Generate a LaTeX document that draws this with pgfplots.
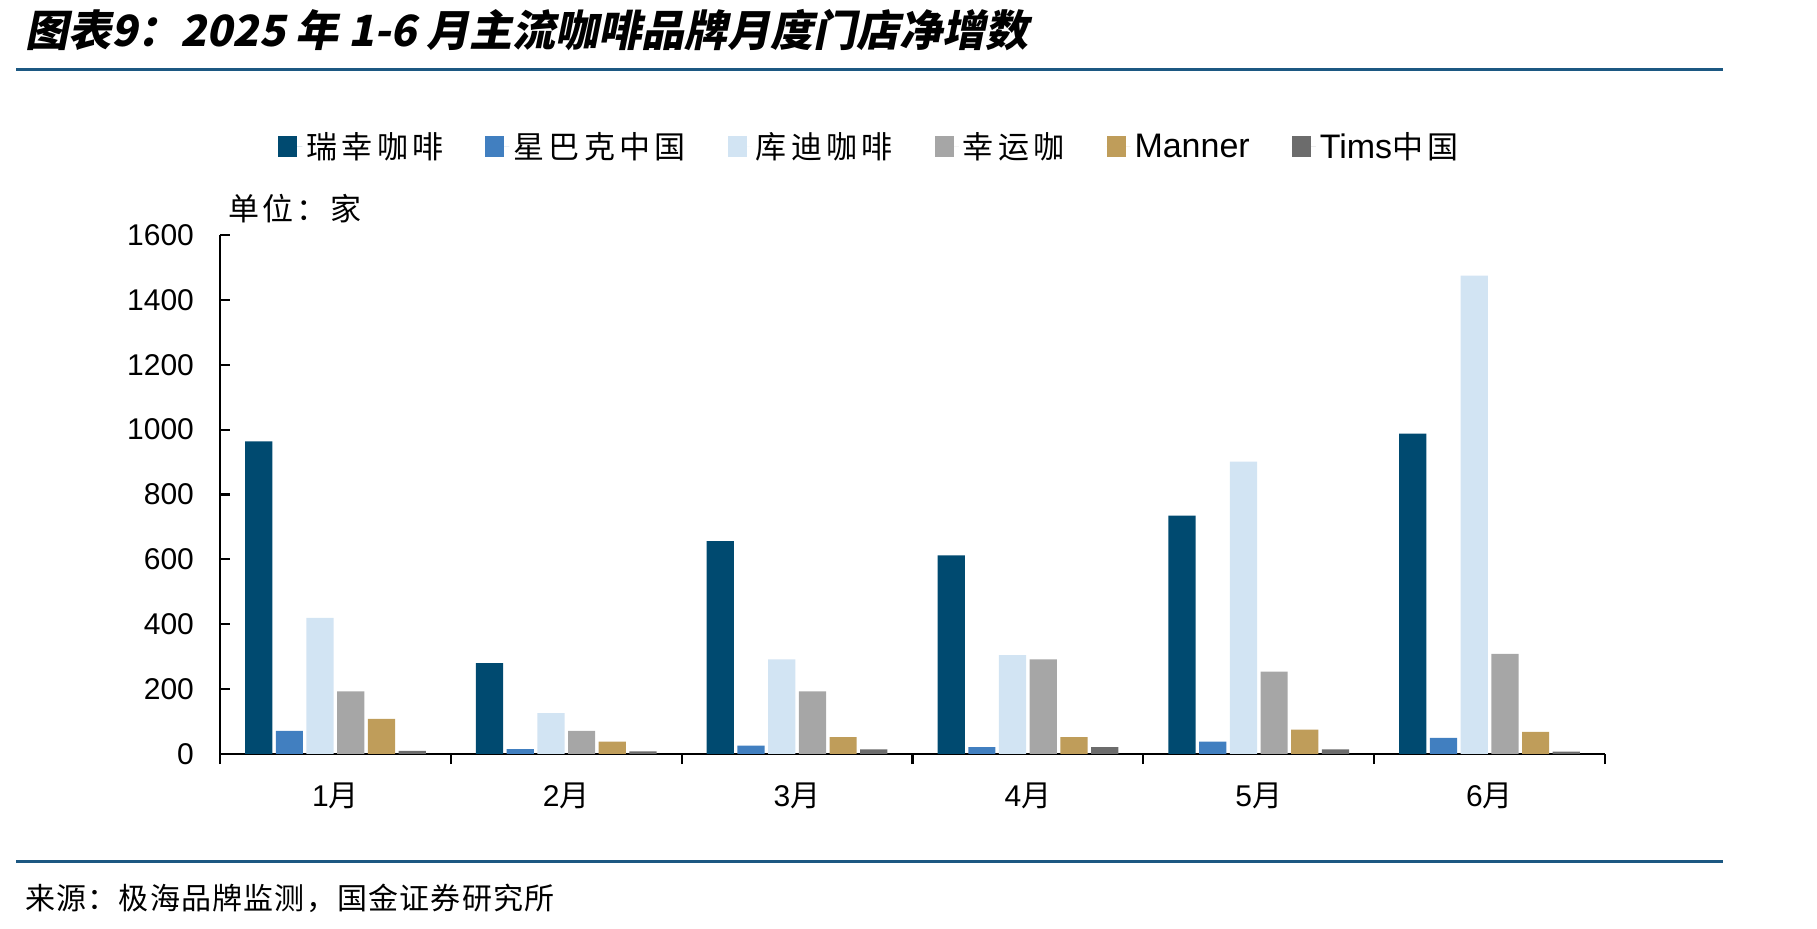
\documentclass[border=0pt]{standalone}
\usepackage{fontspec}
\setmainfont{Liberation Sans}
\newfontfamily\cjk{Noto Sans CJK SC}
\newfontfamily\cjkl{Noto Sans CJK SC}[LetterSpace=10]
\newfontfamily\cjkg{Noto Sans CJK SC}[LetterSpace=14]
\newfontfamily\cjks{Noto Sans CJK SC}[LetterSpace=4]
\newfontfamily\cjkt{Noto Sans CJK SC}[FakeSlant=0.2]
\usepackage{pgfplots}
\pgfplotsset{compat=1.18}
\definecolor{cLk}{RGB}{0,74,112}
\definecolor{cSb}{RGB}{65,127,192}
\definecolor{cCt}{RGB}{210,228,243}
\definecolor{cLy}{RGB}{166,166,166}
\definecolor{cMn}{RGB}{191,157,90}
\definecolor{cTm}{RGB}{108,108,108}
\definecolor{cLine}{RGB}{28,88,130}
\newcommand{\lgcjk}[1]{{\fontsize{15.5}{18}\selectfont\cjkg #1}}
\begin{document}
\begin{tikzpicture}
\useasboundingbox (0,0) rectangle (908.5pt,464pt);
\node[anchor=west, inner sep=0pt] at (12.5pt,449pt) {\fontsize{21.5}{24}\selectfont\cjkt\bfseries 图表9：2025 年 1-6 月主流咖啡品牌月度门店净增数};
\draw[line width=1.5pt, cLine] (8pt,429.25pt) -- (861.5pt,429.25pt);
\draw[line width=1.5pt, cLine] (8pt,33.5pt) -- (861.5pt,33.5pt);
\node[anchor=west, inner sep=0pt] at (12.5pt,15pt) {\fontsize{15}{18}\selectfont\cjks 来源：极海品牌监测，国金证券研究所};
\node[anchor=west, inner sep=0pt] at (114pt,359.5pt) {\fontsize{15.5}{18}\selectfont\cjkl 单位：家};
\begin{axis}[
  at={(110pt,87pt)}, anchor=south west, scale only axis,
  width=692.5pt, height=259.5pt,
  ymin=0, ymax=1600, ytick={0,200,...,1600},
  xmin=-0.5, xmax=5.5,
  xtick={-0.5,0.5,1.5,2.5,3.5,4.5,5.5},
  x tick label as interval,
  xticklabels={1{\cjkl 月},2{\cjkl 月},3{\cjkl 月},4{\cjkl 月},5{\cjkl 月},6{\cjkl 月}},
  axis x line*=bottom, axis y line*=left,
  axis line style={-, line width=1.2pt, black},
  tick align=inside, major tick length=5pt,
  tick style={black, line width=1.1pt},
  /pgf/number format/assume math mode=true,
  /pgf/number format/1000 sep={},
  ticklabel style={font=\fontsize{15}{18}\selectfont},
  xticklabel style={yshift=-6pt},
  yticklabel style={xshift=-9.5pt},
  ybar=1.75pt, bar width=13.6pt,
  legend style={draw=none, fill=none, at={(0.0419,1.1696)}, anchor=west,
    inner sep=0pt, font=\fontsize{17}{19}\selectfont,
    /tikz/every even column/.append style={column sep=19pt},
    nodes={inner sep=2pt}},
  legend columns=6,
  legend image code/.code={\fill[#1] (0pt,-5pt) rectangle (9.5pt,5.5pt); \path (0pt,0pt) -- (12pt,0pt);},
]
\addplot[fill=cLk, draw=none] coordinates {(0,964) (1,280) (2,656) (3,612) (4,735) (5,988)};
\addplot[fill=cSb, draw=none] coordinates {(0,71) (1,15) (2,26) (3,21) (4,38) (5,50)};
\addplot[fill=cCt, draw=none] coordinates {(0,420) (1,126) (2,292) (3,305) (4,901) (5,1475)};
\addplot[fill=cLy, draw=none] coordinates {(0,193) (1,71) (2,193) (3,292) (4,254) (5,309)};
\addplot[fill=cMn, draw=none] coordinates {(0,108) (1,38) (2,52) (3,52) (4,75) (5,68)};
\addplot[fill=cTm, draw=none] coordinates {(0,10) (1,8) (2,14) (3,21) (4,14) (5,7)};
\legend{\lgcjk{瑞幸咖啡},\lgcjk{星巴克中国},\lgcjk{库迪咖啡},\lgcjk{幸运咖},Manner,Tims\lgcjk{中国}}
\end{axis}
\end{tikzpicture}
\end{document}
